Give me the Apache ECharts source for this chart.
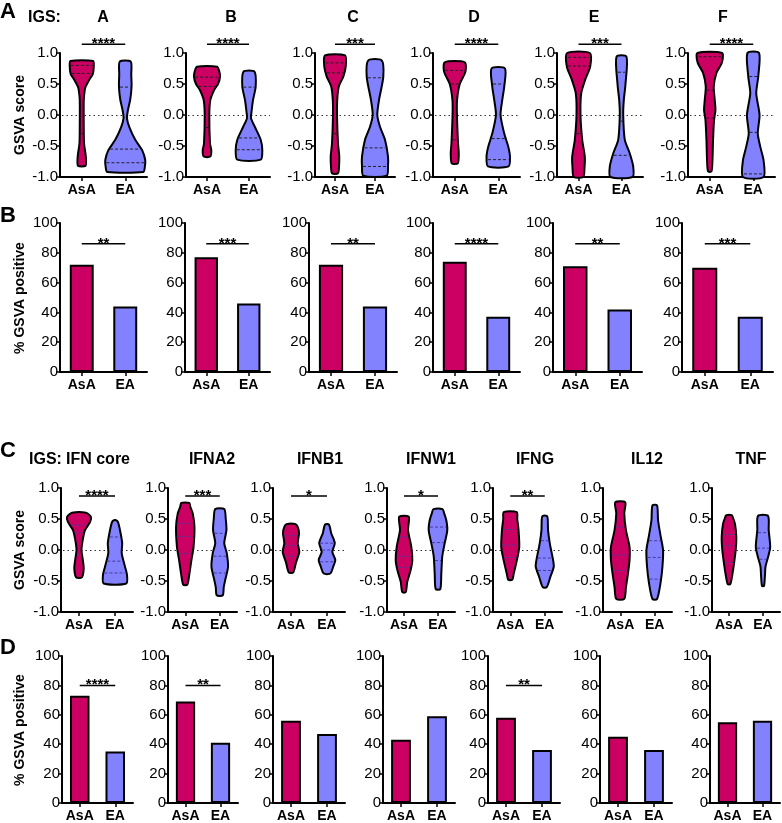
<!DOCTYPE html>
<html><head><meta charset="utf-8">
<script src="https://cdn.jsdelivr.net/npm/echarts@6/dist/echarts.min.js"></script>
<style>html,body{margin:0;padding:0;background:#fff}#c{width:782px;height:823px}</style>
</head><body><div id="c"></div>
<script>
// ---------------- DATA ----------------
const groups = ['AsA', 'EA'];
const titlesTop = ['A', 'B', 'C', 'D', 'E', 'F'];
const titlesBottom = ['IFN core', 'IFNA2', 'IFNB1', 'IFNW1', 'IFNG', 'IL12', 'TNF'];
const violinTicks = [-1.0, -0.5, 0.0, 0.5, 1.0];
const barTicks = [0, 20, 40, 60, 80, 100];

// violin density profiles: [GSVA score, relative density] for [AsA, EA]
const violin_A = [
  [[-0.82,.37],[-0.73,.43],[-0.62,.37],[-0.46,.23],[-0.2,.2],[0.24,.2],[0.4,.3],[0.46,.4],[0.57,.75],[0.66,1.1],[0.78,1.2],[0.87,1.13]],
  [[-0.92,1.8],[-0.85,1.95],[-0.73,2.0],[-0.57,1.7],[-0.4,1.0],[-0.19,.4],[-0.05,.17],[0.08,.27],[0.25,.5],[0.46,.63],[0.65,.6],[0.86,.55]]
];
const violin_B = [
  [[-0.67,.33],[-0.57,.43],[-0.46,.3],[0,.23],[0.24,.33],[0.4,.7],[0.5,1.1],[0.62,1.3],[0.72,1.2],[0.78,1.0]],
  [[-0.72,1.17],[-0.57,1.33],[-0.4,1.17],[-0.19,.58],[-0.05,.2],[0.05,.25],[0.24,.4],[0.46,.67],[0.7,.55]]
];
const violin_C = [
  [[-0.94,.3],[-0.83,.4],[-0.67,.43],[-0.46,.3],[0,.2],[0.24,.22],[0.46,.38],[0.62,.83],[0.78,1.07],[0.96,1.0]],
  [[-0.98,1.17],[-0.83,1.3],[-0.67,1.3],[-0.4,1.0],[-0.19,.5],[0,.23],[0.24,.4],[0.62,.83],[0.88,.67]]
];
const violin_D = [
  [[-0.78,.3],[-0.62,.4],[-0.46,.33],[0,.22],[0.24,.23],[0.5,.5],[0.7,1.07],[0.85,1.0]],
  [[-0.83,1.03],[-0.67,1.17],[-0.51,1.0],[-0.3,.6],[0,.23],[0.24,.4],[0.46,.6],[0.75,.67]]
];
const violin_E = [
  [[-1.0,.47],[-0.85,.6],[-0.67,.63],[-0.4,.37],[0,.2],[0.35,.27],[0.57,.67],[0.78,1.17],[1.0,1.13]],
  [[-1.0,1.1],[-0.83,1.17],[-0.62,.83],[-0.4,.33],[0,.17],[0.24,.23],[0.5,.4],[0.94,.5]]
];
const violin_F = [
  [[-0.91,.17],[-0.73,.27],[-0.4,.33],[-0.08,.43],[0.08,.57],[0.24,.5],[0.46,.4],[0.68,.67],[0.84,1.2],[1.0,1.23]],
  [[-1.0,1.03],[-0.73,1.03],[-0.51,.7],[-0.3,.45],[0,.63],[0.35,.3],[0.62,.5],[1.0,.58]]
];
const violin_IFNcore = [
  [[-0.44,.28],[-0.3,.47],[-0.16,.38],[0,.25],[0.16,.37],[0.32,.6],[0.45,1.1],[0.53,1.2],[0.6,.7]],
  [[-0.54,1.13],[-0.4,1.2],[-0.27,1.0],[-0.05,.67],[0.11,.72],[0.32,.5],[0.45,.3],[0.48,.1]]
];
const violin_IFNA2 = [
  [[-0.56,.2],[-0.38,.42],[-0.16,.62],[0.05,.83],[0.37,.92],[0.59,.75],[0.7,.5],[0.76,.4]],
  [[-0.73,.3],[-0.6,.4],[-0.48,.55],[-0.27,.83],[-0.05,.7],[0.11,.45],[0.32,.67],[0.5,.6],[0.66,.45]]
];
const violin_IFNB1 = [
  [[-0.36,.23],[-0.2,.5],[-0.03,.83],[0.11,.67],[0.27,.8],[0.38,.65],[0.42,.4]],
  [[-0.38,.33],[-0.27,.62],[-0.16,.83],[-0.03,.53],[0.11,.78],[0.27,.42],[0.41,.2]]
];
const violin_IFNW1 = [
  [[-0.68,.17],[-0.51,.33],[-0.32,.67],[-0.16,.83],[0.05,.73],[0.32,.4],[0.45,.48],[0.54,.47]],
  [[-0.63,.23],[-0.38,.33],[-0.1,.43],[0.11,.67],[0.32,.93],[0.48,.83],[0.6,.6],[0.66,.45]]
];
const violin_IFNG = [
  [[-0.48,.2],[-0.38,.35],[-0.16,.67],[0.05,.9],[0.32,.83],[0.5,.7],[0.61,.65]],
  [[-0.6,.2],[-0.43,.57],[-0.27,.9],[-0.16,.83],[0.11,.5],[0.32,.33],[0.5,.3],[0.55,.2]]
];
const violin_IL12 = [
  [[-0.79,.4],[-0.6,.57],[-0.38,.77],[-0.16,.93],[0.05,.93],[0.32,.57],[0.59,.4],[0.77,.5]],
  [[-0.79,.23],[-0.54,.57],[-0.27,.77],[0,.83],[0.24,.57],[0.48,.33],[0.72,.23]]
];
const violin_TNF = [
  [[-0.55,.13],[-0.4,.33],[-0.22,.5],[0,.67],[0.21,.73],[0.42,.6],[0.52,.4],[0.56,.27]],
  [[-0.58,.1],[-0.4,.2],[-0.27,.25],[-0.1,.53],[0.05,.72],[0.32,.57],[0.55,.5]]
];

// quartiles [Q1, median, Q3] for [AsA, EA]
const quart_A = [[-0.3, 0.67, 0.8], [-0.77, -0.55, 0.45]];
const quart_B = [[-0.2, 0.46, 0.61], [-0.56, -0.37, 0.45]];
const quart_C = [[-0.3, 0.68, 0.84], [-0.83, -0.53, 0.6]];
const quart_D = [[-0.4, 0.5, 0.72], [-0.72, -0.38, 0.5]];
const quart_E = [[-0.3, 0.79, 0.93], [-0.65, -0.1, 0.69]];
const quart_F = [[-0.05, 0.4, 0.94], [-0.95, -0.28, 0.62]];
const quart_IFNcore = [[-0.07, 0.28, 0.4], [-0.37, -0.18, 0.21]];
const quart_IFNA2 = [[-0.06, 0.22, 0.43], [-0.37, -0.1, 0.27]];
const quart_IFNB1 = [[-0.1, 0.07, 0.23], [-0.19, 0, 0.11]];
const quart_IFNW1 = [[-0.28, -0.1, 0.21], [-0.17, 0.12, 0.37]];
const quart_IFNG = [[-0.12, 0.08, 0.33], [-0.33, -0.13, 0.15]];
const quart_IL12 = [[-0.33, -0.08, 0.37], [-0.47, -0.12, 0.15]];
const quart_TNF = [[-0.2, 0.07, 0.25], [-0.15, 0.03, 0.28]];

// % GSVA positive
const pctTop_AsA = [72, 77, 72, 74, 71, 70];
const pctTop_EA = [44, 46, 44, 37, 42, 37];
const pctBottom_AsA = [73, 69, 56, 43, 58, 45, 55];
const pctBottom_EA = [35, 41, 47, 59, 36, 36, 56];

// significance
const sigRowA = ['****', '****', '***', '****', '***', '****'];
const sigRowB = ['**', '***', '**', '****', '**', '***'];
const sigRowC = ['****', '***', '*', '*', '**', '', ''];
const sigRowD = ['****', '**', '', '', '**', '', ''];

// ---------------- LAYOUT / STYLE ----------------
const COL_ASA = '#CC0063';
const COL_EA = '#8282FF';
const FONT = 'Liberation Sans';
const VSCALE = 10;

const rowA = { top: 53, height: 124, x: [[60,147],[186,270],[315,395],[433,520],[557,643],[688,775]] };
const rowB = { top: 223, height: 149, x: [[60,147],[185,270],[309,397],[433,520],[553,642],[682,773]] };
const rowC = { top: 488, height: 124, x: [[61,133],[168,237],[273,345],[387,455],[493,562],[603,672],[712,780]] };
const rowD = { top: 656, height: 148, x: [[62,133],[168,238],[273,345],[383,455],[488,560],[600,672],[710,780]] };

const violinsTop = [violin_A, violin_B, violin_C, violin_D, violin_E, violin_F];
const quartsTop = [quart_A, quart_B, quart_C, quart_D, quart_E, quart_F];
const violinsBottom = [violin_IFNcore, violin_IFNA2, violin_IFNB1, violin_IFNW1, violin_IFNG, violin_IL12, violin_TNF];
const quartsBottom = [quart_IFNcore, quart_IFNA2, quart_IFNB1, quart_IFNW1, quart_IFNG, quart_IL12, quart_TNF];

const grids = [], xAxes = [], yAxes = [], series = [];

function interp(prof, v) {
  if (v <= prof[0][0]) return prof[0][1];
  for (let k = 1; k < prof.length; k++) {
    if (v <= prof[k][0]) {
      const a = prof[k-1], b = prof[k];
      const t = (v - a[0]) / (b[0] - a[0]);
      return a[1] + t * (b[1] - a[1]);
    }
  }
  return prof[prof.length-1][1];
}

function addAxes(row, i, isViolin) {
  const [l, r] = row.x[i];
  const gi = grids.length;
  grids.push({ left: l, top: row.top, width: r - l, height: row.height, containLabel: false });
  xAxes.push({
    type: 'category', gridIndex: gi, data: groups, position: 'bottom',
    axisLine: { onZero: false, lineStyle: { color: '#000', width: 2 } },
    axisTick: { show: true, alignWithLabel: true, length: 4, lineStyle: { color: '#000', width: 1.5 } },
    axisLabel: { color: '#000', fontWeight: 'bold', fontSize: 14, fontFamily: FONT, margin: 6, interval: 0 }
  });
  const ticks = isViolin ? violinTicks : barTicks;
  yAxes.push({
    type: 'value', gridIndex: gi,
    min: ticks[0], max: ticks[ticks.length-1], interval: ticks[1] - ticks[0],
    axisLine: { show: true, onZero: false, lineStyle: { color: '#000', width: 2 } },
    axisTick: { show: true, length: 4, lineStyle: { color: '#000', width: 1.5 } },
    splitLine: { show: false },
    axisLabel: { color: '#000', fontSize: 15, fontFamily: FONT, margin: 2,
      formatter: v => isViolin ? v.toFixed(1) : String(v) }
  });
  return gi;
}

function addBracket(gi, level, txt) {
  if (!txt) return;
  series.push({
    type: 'custom', xAxisIndex: gi, yAxisIndex: gi, z: 5, silent: true,
    data: [[0, level]],
    renderItem: function (params, api) {
      const p0 = api.coord([0, api.value(1)]);
      const p1 = api.coord([1, api.value(1)]);
      return { type: 'group', children: [
        { type: 'line', shape: { x1: p0[0], y1: p0[1], x2: p1[0], y2: p1[1] }, style: { stroke: '#000', lineWidth: 1.5 } },
        { type: 'text', x: (p0[0] + p1[0]) / 2, y: p0[1] - 0.5,
          style: { text: txt, fill: '#000', font: 'bold 15px ' + FONT, align: 'center', verticalAlign: 'middle' } }
      ]};
    }
  });
}

function addViolins(gi, profiles, quarts, dashColor) {
  // dotted reference line at score 0
  series.push({
    type: 'custom', xAxisIndex: gi, yAxisIndex: gi, z: 1, silent: true,
    data: [[0, 0]],
    renderItem: function (params, api) {
      const cs = params.coordSys;
      const y = Math.round(api.coord([0, api.value(1)])[1]) + 0.5;
      return { type: 'line', shape: { x1: cs.x + 2, y1: y, x2: cs.x + cs.width, y2: y },
        style: { stroke: '#333', lineWidth: 1, lineDash: [1.5, 3] } };
    }
  });
  series.push({
    type: 'custom', xAxisIndex: gi, yAxisIndex: gi, z: 3, silent: true,
    data: groups.map((g, k) => [k]),
    encode: { x: 0 },
    renderItem: function (params, api) {
      const k = params.dataIndex;
      const prof = profiles[k];
      const right = [], left = [];
      prof.forEach(function (pt) {
        const c = api.coord([k, pt[0]]);
        right.push([c[0] + pt[1] * VSCALE, c[1]]);
        left.push([c[0] - pt[1] * VSCALE, c[1]]);
      });
      const pts = right.concat(left.reverse());
      const children = [{ type: 'polygon', shape: { points: pts, smooth: 0.25 },
        style: { fill: k === 0 ? COL_ASA : COL_EA, stroke: '#000', lineWidth: 2 } }];
      quarts[k].forEach(function (q) {
        const w = interp(prof, q) * VSCALE - 1;
        const c = api.coord([k, q]);
        children.push({ type: 'line', shape: { x1: c[0] - w, y1: c[1], x2: c[0] + w, y2: c[1] },
          style: { stroke: dashColor, lineWidth: 1, lineDash: [3, 2] } });
      });
      return { type: 'group', children: children };
    }
  });
}

function addBars(gi, a, e) {
  series.push({
    type: 'bar', xAxisIndex: gi, yAxisIndex: gi, barWidth: '55%', z: 3,
    itemStyle: { borderColor: '#000', borderWidth: 2 },
    data: [{ value: a, itemStyle: { color: COL_ASA } }, { value: e, itemStyle: { color: COL_EA } }]
  });
}

// Row A: violins
titlesTop.forEach((t, i) => {
  const gi = addAxes(rowA, i, true);
  addViolins(gi, violinsTop[i], quartsTop[i], '#222');
  addBracket(gi, 1.14, sigRowA[i]);
});
// Row B: bars
titlesTop.forEach((t, i) => {
  const gi = addAxes(rowB, i, false);
  addBars(gi, pctTop_AsA[i], pctTop_EA[i]);
  addBracket(gi, 86, sigRowB[i]);
});
// Row C: violins
titlesBottom.forEach((t, i) => {
  const gi = addAxes(rowC, i, true);
  addViolins(gi, violinsBottom[i], quartsBottom[i], '#4a3a9a');
  addBracket(gi, 0.87, sigRowC[i]);
});
// Row D: bars
titlesBottom.forEach((t, i) => {
  const gi = addAxes(rowD, i, false);
  addBars(gi, pctBottom_AsA[i], pctBottom_EA[i]);
  addBracket(gi, 80, sigRowD[i]);
});

// text elements
const graphics = [];
function txt(x, y, s, size, align, rot) {
  graphics.push({ type: 'text', x: x, y: y, rotation: rot || 0, silent: true,
    style: { text: s, fill: '#000', font: 'bold ' + size + 'px ' + FONT, align: align || 'center', verticalAlign: 'middle' } });
}
txt(0, 12, 'A', 22, 'left');
txt(0, 216, 'B', 22, 'left');
txt(0, 451, 'C', 22, 'left');
txt(0, 648, 'D', 22, 'left');
txt(28, 18, 'IGS:', 16, 'left');
txt(29, 460, 'IGS:', 16, 'left');
const topTitleX = [103, 231, 353, 474, 594, 723];
titlesTop.forEach((t, i) => txt(topTitleX[i], 18, t, 16));
const botTitleX = [98, 212, 320, 431, 535, 647, 751];
titlesBottom.forEach((t, i) => txt(botTitleX[i], 460, t, 16));
txt(20, 115, 'GSVA score', 14, 'center', Math.PI / 2);
txt(20, 550, 'GSVA score', 14, 'center', Math.PI / 2);
txt(20, 298, '% GSVA positive', 14, 'center', Math.PI / 2);
txt(20, 730, '% GSVA positive', 14, 'center', Math.PI / 2);

const chart = echarts.init(document.getElementById('c'), null, { renderer: 'canvas' });
chart.setOption({
  animation: false,
  backgroundColor: '#fff',
  grid: grids, xAxis: xAxes, yAxis: yAxes, series: series, graphic: graphics
});
</script>
</body></html>
